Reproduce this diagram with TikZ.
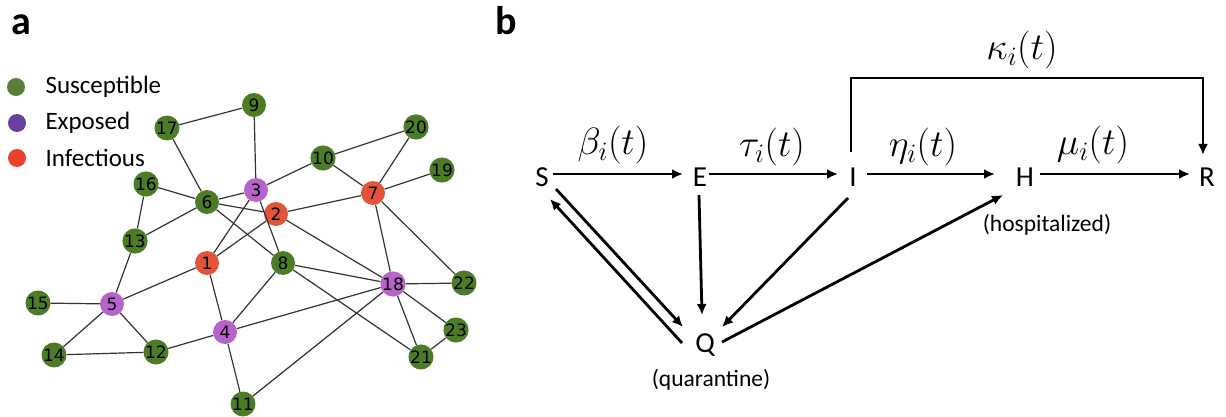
\RequirePackage{fix-cm}
\documentclass[tikz,border=0pt]{standalone}
\usepackage[no-math]{fontspec}
\setmainfont{Carlito}
\newfontfamily\numfont{DejaVu Sans}
\usepackage{tikz}
\usetikzlibrary{arrows.meta}
\definecolor{sgreen}{RGB}{76,125,38}
\definecolor{epurple}{RGB}{184,98,204}
\definecolor{ired}{RGB}{226,84,58}
\definecolor{legS}{RGB}{88,128,54}
\definecolor{legE}{RGB}{104,64,160}
\definecolor{legI}{RGB}{234,64,46}

\begin{document}
\begin{tikzpicture}[x=1pt,y=-1pt,>={Latex[length=11pt,width=10pt]},
  gnode/.style={circle,inner sep=0pt,minimum size=24pt,font=\numfont\fontsize{17}{17}\selectfont},
  gedge/.style={line width=1.2pt,draw=black!80},
  legdot/.style={circle,inner sep=0pt,minimum size=18pt},
  legtext/.style={anchor=west,font=\fontsize{25}{27}\selectfont},
  panel/.style={anchor=base,font=\bfseries\fontsize{40}{40}\selectfont},
  state/.style={inner sep=0pt,font=\fontsize{29}{31}\selectfont},
  rate/.style={inner sep=0pt,font=\fontsize{38}{41}\selectfont},
  note/.style={inner sep=0pt,font=\fontsize{23.5}{25}\selectfont},
  flow/.style={->,line width=2.8pt}]
  \useasboundingbox (0,0) rectangle (1226,417);

  % panel a: contact network
  \node[panel] (pa) at (21,35) {a};
  \node[legdot,fill=legS] (dS) at (16,87) {};
  \node[legdot,fill=legE] (dE) at (17,123) {};
  \node[legdot,fill=legI] (dI) at (17,158) {};
  \node[legtext] (tS) at (42,87) {Susceptible};
  \node[legtext] (tE) at (42,123) {Exposed};
  \node[legtext] (tI) at (42,158) {Infectious};

  \foreach \n/\x/\y/\c in {1/207/263/ired,2/276/214/ired,3/256/190/epurple,4/225/332/epurple,
      5/112/304/epurple,6/207/202/sgreen,7/373/193/ired,8/283/263/sgreen,9/254/105/sgreen,
      10/323/158/sgreen,11/243/404/sgreen,12/156/352/sgreen,13/135/241/sgreen,14/54/355/sgreen,
      15/38/303/sgreen,16/146/184/sgreen,17/167/128/sgreen,18/393/284/epurple,19/442/170/sgreen,
      20/416/127/sgreen,21/421/357/sgreen,22/464/283/sgreen,23/456/330/sgreen}
    \node[gnode,fill=\c] (n\n) at (\x,\y) {\n};

  \foreach \a/\b in {9/17,9/3,17/6,20/10,20/7,10/3,10/7,19/7,16/6,16/13,6/3,6/2,6/13,6/8,
      3/1,3/8,2/1,2/7,2/18,7/18,7/22,8/18,8/21,8/4,18/22,18/23,18/21,18/4,18/11,23/21,
      1/5,1/4,13/5,15/5,5/14,5/12,14/12,12/4,4/11}
    \draw[gedge] (n\a) -- (n\b);

  % panel b: compartment model
  \node[panel] (pb) at (506,35) {b};
  \node[state] (S) at (542,177) {S};
  \node[state] (E) at (700,177) {E};
  \node[state] (I) at (853,177) {I};
  \node[state] (H) at (1025,177) {H};
  \node[state] (R) at (1207,177) {R};
  \node[state] (Q) at (705,345) {Q};
  \node[note] (hosp) at (1047,225) {(hospitalized)};
  \node[note] (quar) at (711,380) {(quarantine)};

  \node[rate] (beta) at (613,145) {$\beta_i(t)$};
  \node[rate] (tau) at (772,147) {$\tau_i(t)$};
  \node[rate] (eta) at (923,147) {$\eta_i(t)$};
  \node[rate] (mu) at (1093,145) {$\mu_i(t)$};
  \node[rate] (kappa) at (1022,50) {$\kappa_i(t)$};

  \draw[flow] ([shift={(11,-3)}]S.center) -- ([shift={(-17,-3)}]E.center);
  \draw[flow] ([shift={(9,-3)}]E.center) -- ([shift={(-15,-3)}]I.center);
  \draw[flow] ([shift={(14,-3)}]I.center) -- ([shift={(-30,-3)}]H.center);
  \draw[flow] ([shift={(15,-3)}]H.center) -- ([shift={(-17,-3)}]R.center);
  \draw[flow] ([shift={(-2,-25)}]I.center) -- ++(0,-74) -| ([shift={(-4,-22)}]R.center);
  \draw[flow] ([shift={(14,12)}]S.center) -- ([shift={(-22,-18)}]Q.center);
  \draw[flow] ([shift={(-23,-2)}]Q.center) -- ([shift={(8,22)}]S.center);
  \draw[flow] ([shift={(-1,18)}]E.center) -- ([shift={(-3,-30)}]Q.center);
  \draw[flow] ([shift={(-5,21)}]I.center) -- ([shift={(17,-18)}]Q.center);
  \draw[flow] ([shift={(17,-3)}]Q.center) -- ([shift={(-22,18)}]H.center);
\end{tikzpicture}
\end{document}
